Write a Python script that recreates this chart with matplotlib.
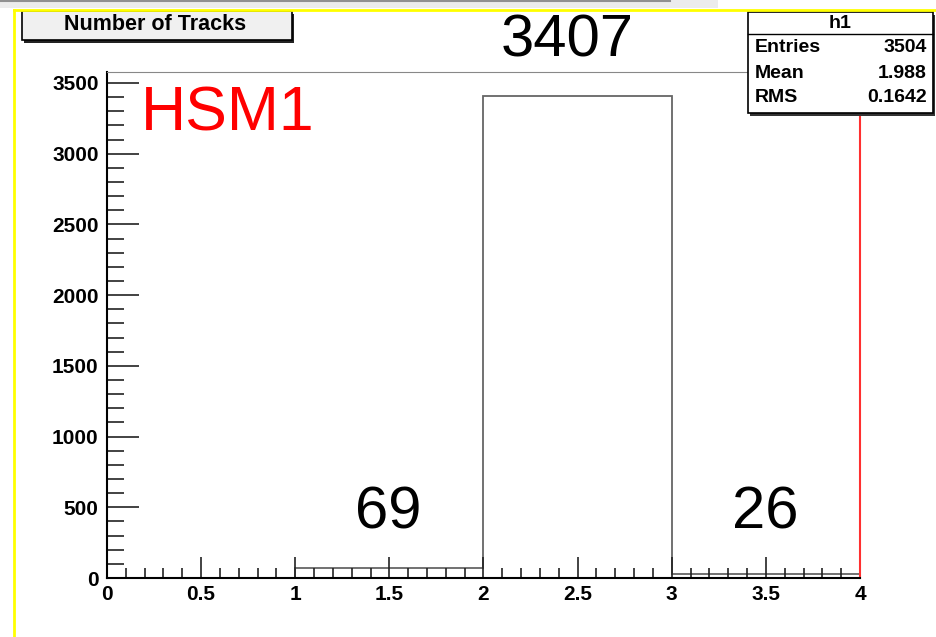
import numpy as np
import matplotlib
matplotlib.use('Agg')
import matplotlib.pyplot as plt
from matplotlib.lines import Line2D
from matplotlib.patches import Rectangle
from matplotlib.ticker import MultipleLocator

# histogram data
bin_edges = [0, 1, 2, 3, 4]
counts = [0, 69, 3407, 26]
label_bins = [1.5, 3.5]
label_values = ['69', '26']
peak_label = '3407'

hist_title = 'Number of Tracks'
stats_name = 'h1'
stats_rows = [('Entries', '3504'), ('Mean', '1.988'), ('RMS', '0.1642')]
tag = 'HSM1'

plt.rcParams['font.family'] = 'Liberation Sans'

W, H = 937, 637
fig = plt.figure(figsize=(W / 100, H / 100), dpi=100)

def fx(px):
    return px / W

def fy(py):
    return 1 - py / H

# screenshot strip + yellow canvas border
fig.add_artist(Rectangle((0, fy(8)), fx(718), 8 / H, transform=fig.transFigure,
                         facecolor='#ececec', edgecolor='none'))
fig.add_artist(Line2D([0, fx(670)], [fy(1), fy(1)], color='#909090', lw=1.5))
fig.add_artist(Line2D([fx(14), 1], [fy(9.5), fy(9.5)], color='#ffff00', lw=2))
fig.add_artist(Line2D([fx(14), fx(14)], [fy(9.5), 0], color='#ffff00', lw=2))

ax = fig.add_axes([fx(107), fy(578), fx(860) - fx(107), (578 - 72) / H])
ax.set_xlim(0, 4)
ax.set_ylim(0, 3407 * 1.05)

ax.stairs(counts, bin_edges, color='#666666', lw=1.3)

ax.spines['top'].set_color('#888888')
ax.spines['right'].set_color('#ff3030')
ax.spines['left'].set_linewidth(1.5)
ax.spines['bottom'].set_linewidth(1.5)
ax.spines['right'].set_linewidth(1.5)

ax.xaxis.set_major_locator(MultipleLocator(0.5))
ax.xaxis.set_minor_locator(MultipleLocator(0.1))
ax.yaxis.set_major_locator(MultipleLocator(500))
ax.yaxis.set_minor_locator(MultipleLocator(100))
ax.tick_params(axis='both', which='both', direction='in', top=False, right=False,
               width=1.2, color='#222222')
ax.tick_params(axis='x', which='major', length=15, pad=5)
ax.tick_params(axis='x', which='minor', length=7)
ax.tick_params(axis='y', which='major', length=23, pad=6)
ax.tick_params(axis='y', which='minor', length=12)
ax.set_xticks(np.arange(0, 4.01, 0.5))
ax.set_xticklabels(['0', '0.5', '1', '1.5', '2', '2.5', '3', '3.5', '4'])
for lab in ax.get_xticklabels() + ax.get_yticklabels():
    lab.set_fontsize(15)
    lab.set_fontweight('bold')

# count labels
for xb, txt in zip(label_bins, label_values):
    ax.text(xb - 0.005, 459, txt, fontsize=43, ha='center', va='center')
ax.text(2.443, 3797, peak_label, fontsize=43, ha='center', va='center', clip_on=False)
ax.text(0.18, 3280, tag, fontsize=45, color='#ff0000', ha='left', va='center')

# title box
fig.add_artist(Rectangle((fx(24), fy(43)), fx(292) - fx(22), 29 / H, transform=fig.transFigure,
                         facecolor='#222222', edgecolor='none'))
fig.add_artist(Rectangle((fx(22), fy(40)), fx(292) - fx(22), 29 / H, transform=fig.transFigure,
                         facecolor='#f0f0f0', edgecolor='black', lw=1.2))
fig.text(fx(155), fy(25), hist_title, fontsize=15.5, fontweight='bold', ha='center', va='center')

# stats box
bx0, bx1, by0, by1 = 748, 933, 12, 113
fig.add_artist(Rectangle((fx(bx0 + 2), fy(by1 + 3)), fx(bx1) - fx(bx0), (by1 - by0) / H,
                         transform=fig.transFigure, facecolor='#333333', edgecolor='none'))
fig.add_artist(Rectangle((fx(bx0), fy(by1)), fx(bx1) - fx(bx0), (by1 - by0) / H,
                         transform=fig.transFigure, facecolor='white', edgecolor='black', lw=1.2))
fig.add_artist(Line2D([fx(bx0), fx(bx1)], [fy(34), fy(34)], color='black', lw=1))
fig.text(fx((bx0 + bx1) / 2), fy(23), stats_name, fontsize=14, fontweight='bold',
         ha='center', va='center')
for i, (name, val) in enumerate(stats_rows):
    yy = fy(48 + i * 25)
    fig.text(fx(755), yy, name, fontsize=14, fontweight='bold', ha='left', va='center')
    fig.text(fx(927), yy, val, fontsize=14, fontweight='bold', ha='right', va='center')

fig.savefig('out.png', dpi=100)
